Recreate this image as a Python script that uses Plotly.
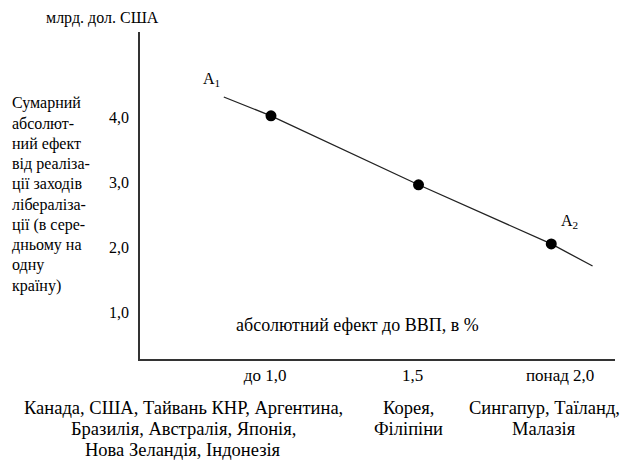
import plotly.graph_objects as go

# ---- data ----
point_x = [1.02, 1.52, 1.97]
point_y = [4.03, 2.97, 2.06]
curve_x = [0.86, 1.02, 1.52, 1.97, 2.11]
curve_y = [4.32, 4.03, 2.97, 2.06, 1.72]

y_tickvals = [1, 2, 3, 4]
y_ticktext = ["1,0", "2,0", "3,0", "4,0"]
x_tickvals = [1.0, 1.5, 2.0]
x_ticktext = ["до 1,0", "1,5", "понад 2,0"]

y_unit_label = "млрд. дол. США"
y_title_lines = ["Сумарний", "абсолют-", "ний ефект", "від реаліза-", "ції заходів",
                 "лібералізa-", "ції (в сере-", "дньому на", "одну", "країну)"]
x_inner_label = "абсолютний ефект до ВВП, в %"
point_labels = ["A<sub>1</sub>", "A<sub>2</sub>"]
country_groups = [
    ["Канада, США, Тайвань КНР, Аргентина,", "Бразилія, Австралія, Японія,", "Нова Зеландія, Індонезія"],
    ["Корея,", "Філіпіни"],
    ["Сингапур, Таїланд,", "Малазія"],
]

# ---- layout geometry (pixels) ----
W, H = 625, 462
L, R, T, B = 140, 615, 32, 359
FONT = '"Liberation Serif", "Times New Roman", Times, serif'


def px(x):
    return (x - L) / (R - L)


def py(y):
    return (B - y) / (B - T)


def label(text, x, y, size, xanchor="center", yanchor="middle", align="center"):
    return dict(text=text, x=px(x), y=py(y), xref="paper", yref="paper",
                showarrow=False, xanchor=xanchor, yanchor=yanchor, align=align,
                font=dict(family=FONT, size=size, color="black"))


fig = go.Figure()
fig.add_trace(go.Scatter(x=curve_x, y=curve_y, mode="lines",
                         line=dict(color="#222", width=1.3),
                         hoverinfo="skip", showlegend=False))
fig.add_trace(go.Scatter(x=point_x, y=point_y, mode="markers",
                         marker=dict(color="black", size=11),
                         showlegend=False))

ann = []
ann.append(label(y_unit_label, 102, 18, 16))
for i, line in enumerate(y_title_lines):
    ann.append(label(line, 10, 103 + i * 20.3, 16, xanchor="left", align="left"))
ann.append(label(point_labels[0], 211, 79, 16))
ann.append(label(point_labels[1], 569, 221, 16))
ann.append(label(x_inner_label, 357, 325, 18))
group_cx = [183, 408, 544]
for cx, lines in zip(group_cx, country_groups):
    for j, line in enumerate(lines):
        ann.append(label(line, cx, 408 + j * 21, 18.5))

fig.update_layout(
    width=W, height=H,
    margin=dict(l=L, r=W - R, t=T, b=H - B, pad=0),
    paper_bgcolor="white", plot_bgcolor="white",
    font=dict(family=FONT, size=16, color="black"),
    annotations=ann,
    xaxis=dict(range=[0.576, 2.186], showgrid=False, zeroline=False,
               showline=True, linecolor="#333", linewidth=1.5,
               tickvals=x_tickvals, ticktext=x_ticktext, ticks="",
               ticklabelstandoff=0, tickfont=dict(family=FONT, size=17)),
    yaxis=dict(range=[0.29, 5.32], showgrid=False, zeroline=False,
               showline=True, linecolor="#333", linewidth=1.5,
               tickvals=y_tickvals, ticktext=y_ticktext, ticks="",
               ticklabelstandoff=6, tickfont=dict(family=FONT, size=16)),
)

fig.write_html("out.html", config={"displayModeBar": False},
               post_script="document.body.style.margin='0';document.body.style.overflow='hidden';")
